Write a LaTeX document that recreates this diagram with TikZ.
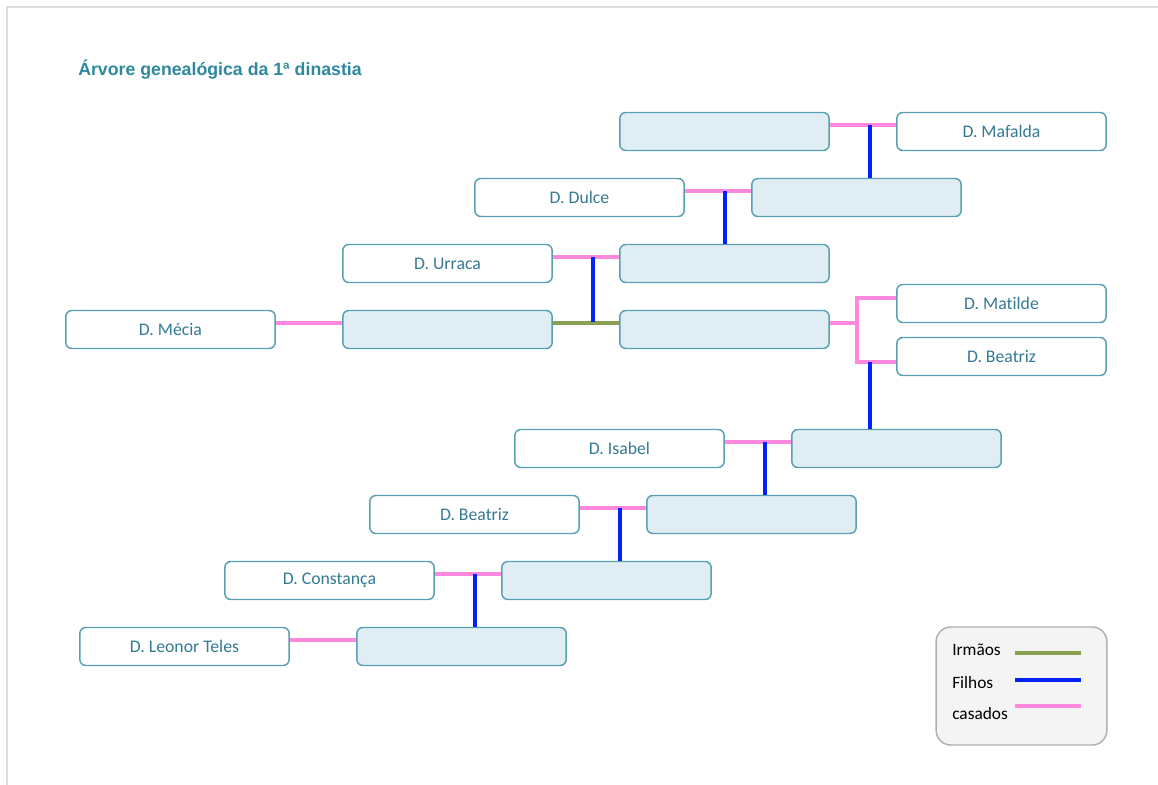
\documentclass[tikz,border=0pt]{standalone}
\usepackage{fontspec}
\setmainfont{Carlito}[Ligatures=NoCommon]
\newfontfamily\titlefont{Liberation Sans}
\usetikzlibrary{calc}

\definecolor{boxline}{RGB}{88,160,180}
\definecolor{boxfill}{RGB}{224,238,243}
\definecolor{boxtext}{RGB}{52,122,148}
\definecolor{titlecol}{RGB}{46,136,158}
\definecolor{casadoscol}{RGB}{255,136,221}
\definecolor{filhoscol}{RGB}{0,34,255}
\definecolor{irmaoscol}{RGB}{136,160,80}
\definecolor{framecol}{RGB}{221,221,221}
\definecolor{legfill}{RGB}{244,244,244}
\definecolor{legline}{RGB}{176,176,176}

\tikzset{
  person/.style={draw=boxline, line width=1.1pt, rounded corners=4.5pt, fill=white,
    minimum width=157pt, minimum height=28.5pt, inner sep=0pt,
    text=boxtext, font=\fontsize{13.3}{15}\selectfont},
  king/.style={person, fill=boxfill},
  casados/.style={draw=casadoscol, line width=3pt},
  filhos/.style={draw=filhoscol, line width=3pt},
  irmaos/.style={draw=irmaoscol, line width=3pt},
  up/.style={yshift=5pt},
}

\begin{document}
\begin{tikzpicture}[x=0.75pt,y=-0.75pt]
\useasboundingbox (0,0) rectangle (1158,785);
% page frame (top and left edges)
\draw[framecol, line width=1.5pt] (7,785) -- (7,7) -- (1158,7);

\node[anchor=west, inner sep=0pt, text=titlecol, font=\titlefont\bfseries\fontsize{13.3}{16}\selectfont]
  (title) at (78,70) {Árvore genealógica da 1ª dinastia};

% generation boxes
\node[king]   (a1)        at (724.5,131.5) {};
\node[person] (mafalda)   at (1001.5,131.5) {D. Mafalda};
\node[person] (dulce)     at (579.5,197.5) {D. Dulce};
\node[king]   (b2)        at (856.5,197.5) {};
\node[person] (urraca)    at (447.5,263.5) {D. Urraca};
\node[king]   (c3)        at (724.5,263.5) {};
\node[person] (mecia)     at (170.5,329.5) {D. Mécia};
\node[king]   (d4l)       at (447.5,329.5) {};
\node[king]   (d4r)       at (724.5,329.5) {};
\node[person] (matilde)   at (1001.5,303.5) {D. Matilde};
\node[person] (beatriza)  at (1001.5,356.5) {D. Beatriz};
\node[person] (isabel)    at (619.5,448.5) {D. Isabel};
\node[king]   (e5)        at (896.5,448.5) {};
\node[person] (beatrizb)  at (474.5,514.5) {D. Beatriz};
\node[king]   (f6)        at (751.5,514.5) {};
\node[person] (constanca) at (329.5,580.5) {D. Constança};
\node[king]   (g7)        at (606.5,580.5) {};
\node[person] (leonor)    at (184.5,646.5) {D. Leonor Teles};
\node[king]   (h8)        at (461.5,646.5) {};

% marriages
\draw[casados] ([up]a1.east) -- ([up]mafalda.west);
\draw[casados] ([up]dulce.east) -- ([up]b2.west);
\draw[casados] ([up]urraca.east) -- ([up]c3.west);
\draw[casados] ([up]mecia.east) -- ([up]d4l.west);
\draw[casados] ([up]isabel.east) -- ([up]e5.west);
\draw[casados] ([up]beatrizb.east) -- ([up]f6.west);
\draw[casados] ([up]constanca.east) -- ([up]g7.west);
\draw[casados] ([up]leonor.east) -- ([up]h8.west);

% fork towards D. Matilde and D. Beatriz
\coordinate (fork) at ($([up]d4r.east)+(27,0)$);
\coordinate (forktop) at ($(matilde.west)+(0,-6)$);
\coordinate (forkbot) at ($(beatriza.west)+(0,5.5)$);
\draw[casados] ([up]d4r.east) -- (fork);
\draw[casados, line join=miter] (forktop) -- (fork |- forktop) -- (fork |- forkbot) -- (forkbot);

% siblings
\draw[irmaos] ([up]d4l.east) -- ([up]d4r.west);

% children
\coordinate (j1) at ($([up]mafalda.west)+(-26,0)$);
\draw[filhos] (j1) -- (j1 |- b2.north);
\coordinate (j2) at ($([up]b2.west)+(-26,0)$);
\draw[filhos] (j2) -- (j2 |- c3.north);
\coordinate (j3) at ($([up]c3.west)+(-26,0)$);
\draw[filhos] (j3) -- ($(j3 |- d4l.east)+(0,-8)$);
\coordinate (j4) at ($(forkbot)+(-26,0)$);
\draw[filhos] (j4) -- (j4 |- e5.north);
\coordinate (j5) at ($([up]e5.west)+(-26,0)$);
\draw[filhos] (j5) -- (j5 |- f6.north);
\coordinate (j6) at ($([up]f6.west)+(-26,0)$);
\draw[filhos] (j6) -- (j6 |- g7.north);
\coordinate (j7) at ($([up]g7.west)+(-26,0)$);
\draw[filhos] (j7) -- (j7 |- h8.north);

% legend
\node[draw=legline, fill=legfill, line width=1.1pt, rounded corners=11pt,
  minimum width=128pt, minimum height=88.5pt, inner sep=0pt] (legend) at (1021.5,686) {};
\begin{scope}[font=\fontsize{13}{15}\selectfont]
\node[anchor=west, inner sep=0pt] (lirmaos)  at (952,650) {Irmãos};
\node[anchor=west, inner sep=0pt] (lfilhos)  at (952,683) {Filhos};
\node[anchor=west, inner sep=0pt] (lcasados) at (952,714) {casados};
\end{scope}
\coordinate (li1) at (1015,653);
\coordinate (li2) at (1081,653);
\coordinate (lf1) at (1015,680);
\coordinate (lf2) at (1081,680);
\coordinate (lc1) at (1015,706);
\coordinate (lc2) at (1081,706);
\draw[irmaos] (li1) -- (li2);
\draw[filhos] (lf1) -- (lf2);
\draw[casados] (lc1) -- (lc2);
\end{tikzpicture}
\end{document}
